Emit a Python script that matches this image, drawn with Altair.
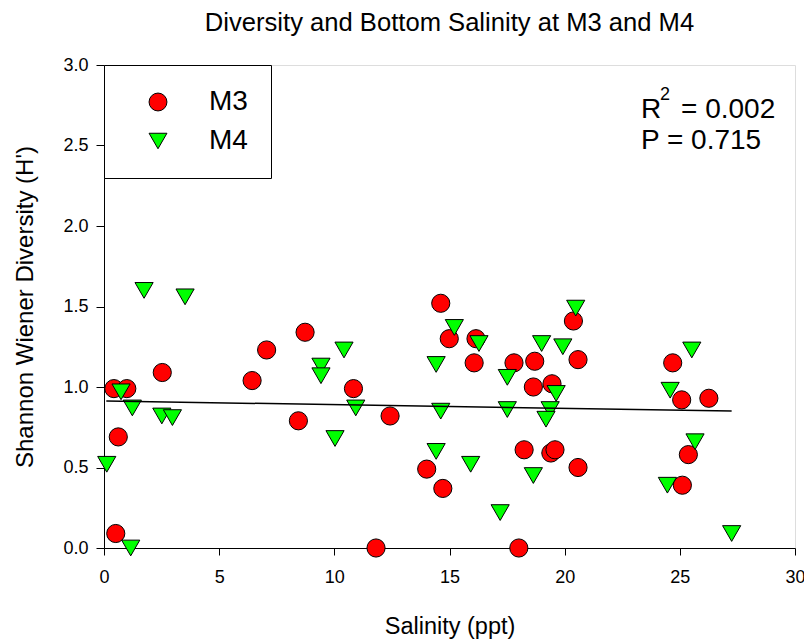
import altair as alt
import pandas as pd

# ---- data ----
m3_x = [0.43, 0.99, 0.62, 0.51, 2.53, 6.43, 7.06, 8.73, 8.44, 10.83, 12.42, 11.81,
        14.01, 14.71, 14.62, 14.99, 16.15, 16.07, 17.80, 18.70, 18.64, 19.45, 18.24,
        19.40, 19.58, 20.58, 20.58, 20.38, 18.01, 24.69, 25.08, 26.26, 25.37, 25.11]
m3_y = [0.99, 0.99, 0.69, 0.09, 1.09, 1.04, 1.23, 1.34, 0.79, 0.99, 0.82, 0.00,
        0.49, 0.37, 1.52, 1.30, 1.30, 1.15, 1.15, 1.16, 1.00, 1.02, 0.61,
        0.59, 0.61, 0.50, 1.17, 1.41, 0.00, 1.15, 0.92, 0.93, 0.58, 0.39]

m4_x = [1.74, 3.52, 0.74, 1.23, 2.51, 2.97, 0.12, 1.16, 10.42, 9.42, 9.42, 10.93,
        10.03, 14.42, 14.62, 14.42, 15.21, 16.28, 19.00, 19.92, 17.51, 19.63, 20.48,
        17.51, 19.37, 19.19, 15.92, 18.64, 17.20, 25.52, 24.58, 25.66, 24.46, 27.25]
m4_y = [1.60, 1.56, 0.97, 0.87, 0.82, 0.81, 0.52, 0.00, 1.23, 1.13, 1.07, 0.87,
        0.68, 1.14, 0.85, 0.60, 1.37, 1.27, 1.27, 1.25, 1.06, 0.96, 1.49,
        0.86, 0.86, 0.80, 0.52, 0.45, 0.22, 1.23, 0.98, 0.66, 0.39, 0.09]

fit_x = [0.10, 27.25]
fit_y = [0.913, 0.851]

stations = ["M3", "M4"]
station_colors = ["#ff0000", "#00ff00"]
station_strokes = ["#000000", "#000000"]
station_shapes = ["circle", "triangle-down"]

x_ticks = [0, 5, 10, 15, 20, 25, 30]
y_ticks = [0.0, 0.5, 1.0, 1.5, 2.0, 2.5, 3.0]

title_text = "Diversity and Bottom Salinity at M3 and M4"
x_title = "Salinity (ppt)"
y_title = "Shannon Wiener Diversity (H')"
r2_parts = ["R", "2", "= 0.002"]
p_text = "P = 0.715"

FONT = "Liberation Sans"

df = pd.DataFrame({
    "salinity": m3_x + m4_x,
    "diversity": m3_y + m4_y,
    "station": [stations[0]] * len(m3_x) + [stations[1]] * len(m4_x),
})
fit_df = pd.DataFrame({"salinity": fit_x, "diversity": fit_y})

x_scale = alt.Scale(domain=[0, 30], nice=False, zero=False)
y_scale = alt.Scale(domain=[0, 3], nice=False, zero=False)

x_axis = alt.Axis(values=x_ticks, format="d", title=x_title, grid=False,
                  tickSize=7, labelPadding=27, labelBaseline="alphabetic",
                  labelFontSize=18, labelFont=FONT, labelColor="black",
                  titleFontSize=23.5, titleFont=FONT, titleFontWeight="normal",
                  titleColor="black", titleY=85.5, titleBaseline="alphabetic",
                  domainColor="black", tickColor="black", labelFlush=False)
y_axis = alt.Axis(values=y_ticks, format=".1f", title=y_title, grid=False,
                  tickSize=8, labelPadding=8,
                  labelFontSize=18, labelFont=FONT, labelColor="black",
                  titleFontSize=24, titleFont=FONT, titleFontWeight="normal",
                  titleColor="black", titleX=-72, titleBaseline="alphabetic",
                  domainColor="black", tickColor="black", labelFlush=False)

legend = alt.Legend(title=None, orient="top-left", offset=0,
                    labelFontSize=28, labelFont=FONT, labelColor="black",
                    symbolSize=320, symbolStrokeColor="black", symbolStrokeWidth=1,
                    padding=23, symbolOffset=17, labelOffset=37, rowPadding=11,
                    strokeColor="black", fillColor="white", direction="vertical")

points = alt.Chart(df).mark_point(filled=True, opacity=1, strokeWidth=1,
                                  size=330).encode(
    x=alt.X("salinity:Q", scale=x_scale, axis=x_axis),
    y=alt.Y("diversity:Q", scale=y_scale, axis=y_axis),
    fill=alt.Fill("station:N", scale=alt.Scale(domain=stations, range=station_colors),
                  legend=legend),
    stroke=alt.Stroke("station:N", scale=alt.Scale(domain=stations, range=station_strokes),
                      legend=legend),
    shape=alt.Shape("station:N", scale=alt.Scale(domain=stations, range=station_shapes),
                    legend=legend),
)

fit_line = alt.Chart(fit_df).mark_line(color="black", strokeWidth=1.5).encode(
    x=alt.X("salinity:Q", scale=x_scale),
    y=alt.Y("diversity:Q", scale=y_scale),
)

def label(text, x, y, size, align="left"):
    return alt.Chart(pd.DataFrame({"t": [text]})).mark_text(
        align=align, baseline="alphabetic", font=FONT, fontSize=size, color="black"
    ).encode(text="t:N", x=alt.value(x), y=alt.value(y))

stats = (label(r2_parts[0], 537, 53.3, 28) + label(r2_parts[1], 556, 35, 18)
         + label(r2_parts[2], 577, 53.3, 28) + label(p_text, 537, 84.3, 28))

title_mark = label(title_text, 345.5, -34, 25.6, align="center")

chart = alt.layer(points, fit_line, stats, title_mark).properties(
    width=691, height=483,
    autosize=alt.AutoSizeParams(type="none"),
    padding={"left": 104, "top": 65, "right": 9, "bottom": 91},
).configure_view(stroke="black", strokeWidth=1).configure(background="white")

chart.save("out.html", embed_options={"renderer": "svg", "actions": False})
